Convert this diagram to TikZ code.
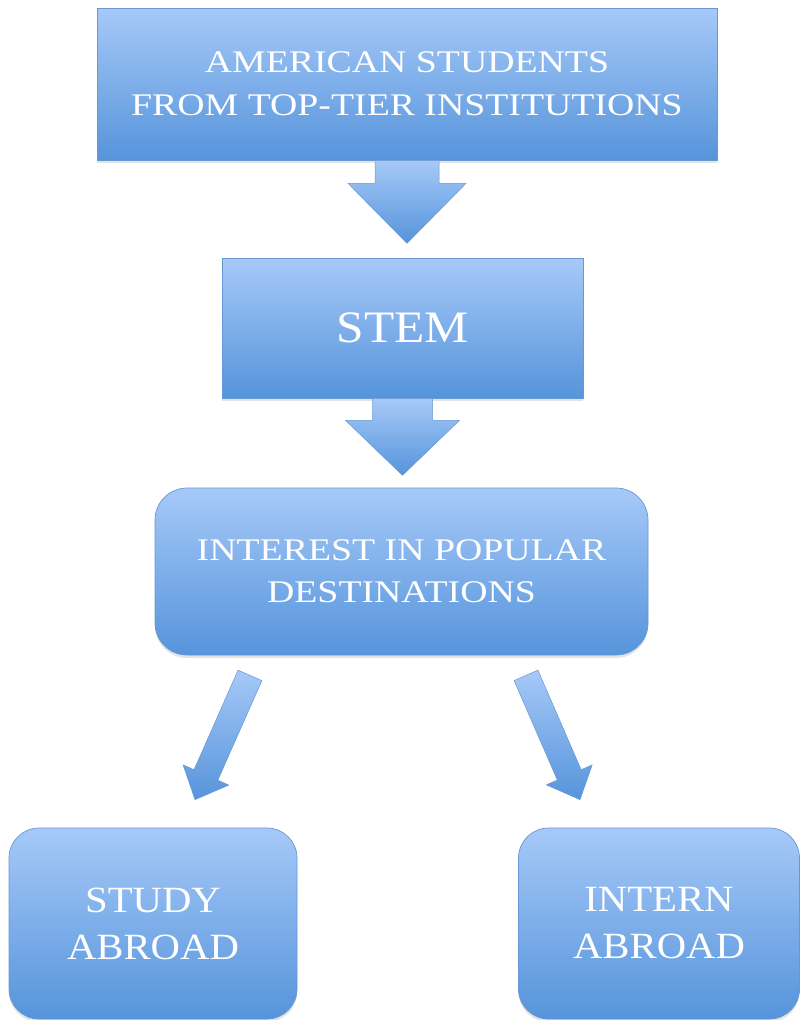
\documentclass[tikz,border=0pt]{standalone}
\usepackage{fontspec}
\usetikzlibrary{calc,shadows}
\newfontfamily\boxfont[FakeStretch=1.1]{Liberation Serif}
\newfontfamily\widefont[FakeStretch=1.2]{Liberation Serif}
\definecolor{boxtop}{RGB}{166,201,248}
\definecolor{boxbot}{RGB}{86,148,219}
\definecolor{boxedge}{RGB}{104,152,210}
\begin{document}
\begin{tikzpicture}[x=1pt,y=-1pt,
  box/.style={draw=boxedge, line width=0.7pt, top color=boxtop, bottom color=boxbot,
    text=white, align=center, inner sep=0pt,
    drop shadow={opacity=0.22, shadow xshift=0pt, shadow yshift=-3pt}},
  roundbox/.style={box, rounded corners=32pt},
  blockarrow/.style={draw=boxedge, line width=0.5pt, top color=boxtop, bottom color=boxbot}]
\useasboundingbox (0,0) rectangle (800,1020);

% block arrow from tail centre #1 to tip #2: shaft half width #3, head half width #4, head length #5
\newcommand{\fatarrow}[5]{%
  \path[blockarrow]
    ($(#1)!#3!90:(#2)$) --
    ($($(#2)!#5!(#1)$)!#3!-90:(#1)$) --
    ($($(#2)!#5!(#1)$)!#4!-90:(#1)$) --
    (#2) --
    ($($(#2)!#5!(#1)$)!#4!90:(#1)$) --
    ($($(#2)!#5!(#1)$)!#3!90:(#1)$) --
    ($(#1)!#3!-90:(#2)$) -- cycle;}

\node[box, minimum width=620pt, minimum height=152pt,
      font=\widefont\fontsize{31.5}{43}\selectfont] (top) at (407,84)
  {AMERICAN STUDENTS\\FROM TOP-TIER INSTITUTIONS};

\node[box, minimum width=361pt, minimum height=140pt,
      font=\boxfont\fontsize{45}{50}\selectfont] (stem) at (402.5,328) {STEM};

\node[roundbox, minimum width=493pt, minimum height=167pt,
      font=\widefont\fontsize{31.5}{42}\selectfont] (interest) at (401.5,571.5)
  {INTEREST IN POPULAR\\DESTINATIONS};

\node[roundbox, minimum width=288pt, minimum height=191pt, rounded corners=30pt,
      font=\boxfont\fontsize{37}{47}\selectfont] (study) at (153,923.5)
  {STUDY\\ABROAD};

\node[roundbox, minimum width=281pt, minimum height=191pt, rounded corners=30pt,
      font=\boxfont\fontsize{37}{47}\selectfont] (intern) at (659,923.5)
  {INTERN\\ABROAD};

% arrow ends
\coordinate (t1) at (top.south);
\coordinate (h1) at ($(top.south)+(0,83)$);
\coordinate (t2) at (stem.south);
\coordinate (h2) at ($(stem.south)+(0,77)$);
\coordinate (t3) at ($(interest.south)+(-151.5,20)$);
\coordinate (h3) at ($(study.north)+(42,-28)$);
\coordinate (t4) at ($(interest.south)+(124.5,20)$);
\coordinate (h4) at ($(intern.north)+(-79,-28)$);

\fatarrow{t1}{h1}{32pt}{59pt}{60pt}
\fatarrow{t2}{h2}{30pt}{57pt}{55pt}
\fatarrow{t3}{h3}{13pt}{25pt}{27pt}
\fatarrow{t4}{h4}{13pt}{25pt}{27pt}
\end{tikzpicture}
\end{document}
